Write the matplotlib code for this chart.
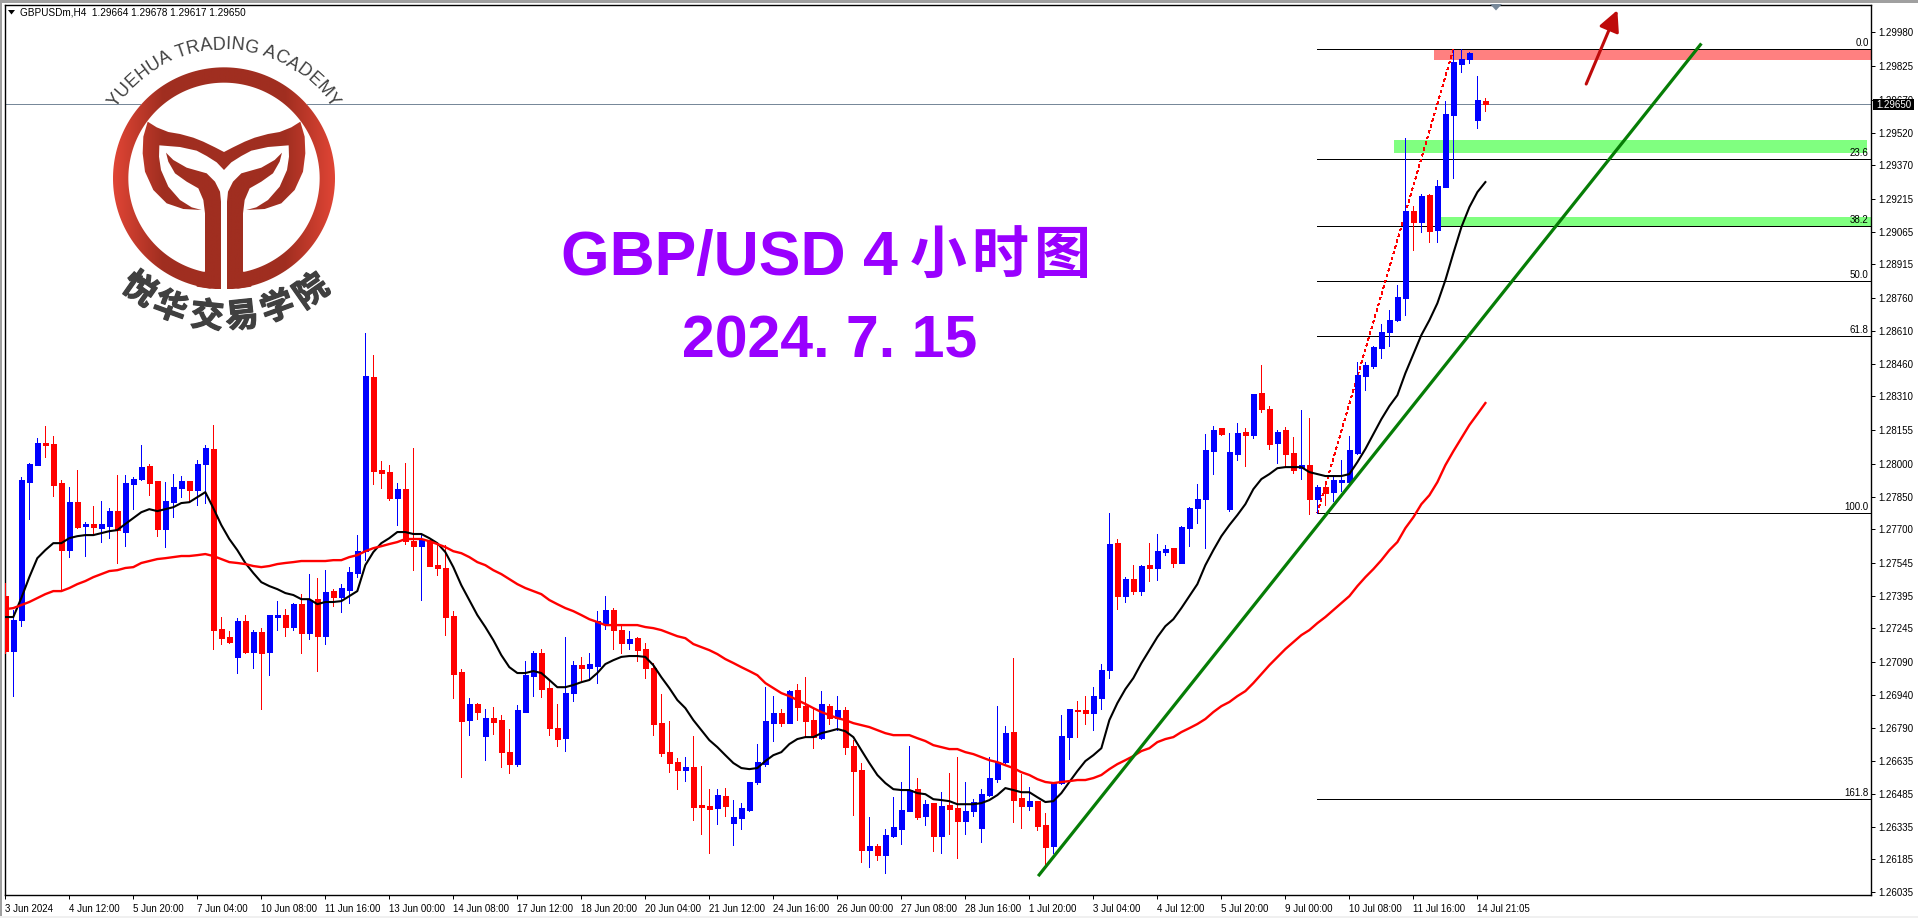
import numpy as np
import matplotlib
matplotlib.use("Agg")
import matplotlib.pyplot as plt
import matplotlib.patheffects as pe
from matplotlib.path import Path
from matplotlib.patches import PathPatch, Rectangle, Circle, Polygon
from matplotlib.font_manager import FontProperties
from matplotlib.textpath import text_to_path

plt.rcParams['font.family'] = ['Liberation Sans', 'Noto Sans CJK SC', 'DejaVu Sans']

W, H = 1918, 918

# prices in points (1e-5)
high_pts = [
    127453,127329,127939,128003,128118,128173,128127,127925,127893,127971,
    127733,127806,127829,127797,127948,127948,127939,128086,127999,127921,
    127916,127953,127944,127921,128017,128086,128178,127297,127233,127293,
    127306,127237,127247,127306,127370,127333,127361,127402,127494,127476,
    127512,127425,127448,127526,127673,128600,128499,128012,127994,127911,
    128003,128072,127673,127650,127632,127627,127324,127058,126925,126902,
    126875,126884,126847,126783,126893,127095,127141,127150,127008,126898,
    127205,127095,127114,127132,127324,127393,127338,127255,127233,127205,
    127178,127086,126943,126819,126650,126654,126751,126613,126507,126507,
    126512,126457,126443,126540,126714,126975,126934,126875,126961,126989,
    127021,126879,126957,126898,126934,126884,126732,126627,126379,126255,
    126324,126471,126540,126705,126558,126457,126443,126494,126581,126654,
    126540,126462,126507,126654,126888,126796,127109,126576,126517,126452,
    126397,126535,126847,126875,126911,126934,126975,127081,127774,127655,
    127480,127535,127535,127636,127677,127627,127613,127714,127801,127907,
    128136,128173,128164,128141,128187,128164,128320,128453,128265,128155,
    128168,128122,128246,128210,127902,127902,127944,128017,128127,128467,
    128467,128540,128641,128705,128820,129495,129183,129238,129238,129302,
    129665,129899,129903,129889,129779,129678]
low_pts = [
    127132,126934,127255,127746,127994,128031,127852,127420,127572,127705,
    127577,127682,127641,127659,127545,127622,127792,127925,127856,127668,
    127618,127755,127847,127829,127811,127820,127150,127173,127178,127040,
    127132,127063,126875,127030,127237,127210,127237,127132,127196,127049,
    127173,127347,127320,127361,127480,127558,127907,127889,127834,127719,
    127632,127512,127375,127531,127489,127214,126925,126562,126755,126829,
    126641,126760,126608,126581,126613,126861,126934,126930,126755,126705,
    126682,126911,127008,127017,126994,127242,127150,127132,127150,127095,
    127017,126755,126659,126585,126507,126544,126365,126301,126214,126347,
    126384,126250,126324,126406,126530,126613,126728,126796,126810,126824,
    126751,126695,126737,126806,126778,126668,126388,126172,126150,126182,
    126122,126287,126255,126406,126370,126342,126223,126214,126301,126191,
    126301,126384,126264,126475,126540,126627,126356,126328,126411,126319,
    126150,126214,126530,126645,126746,126806,126778,126875,127017,127333,
    127366,127402,127398,127462,127466,127581,127526,127545,127622,127728,
    127613,127953,128132,127783,128017,127990,128118,128237,128068,128003,
    127985,127957,127930,127769,127774,127811,127829,127875,127902,128045,
    128338,128439,128485,128540,128655,128682,128981,129063,129017,129017,
    129270,129311,129798,129839,129541,129617]
open_pts = [
    127393,127141,127283,127916,127994,128095,128090,127911,127604,127824,
    127714,127724,127705,127714,127783,127687,127907,127930,127990,127921,
    127700,127824,127889,127921,127879,127999,128068,127242,127205,127114,
    127279,127137,127228,127137,127297,127306,127251,127356,127223,127379,
    127210,127416,127389,127420,127498,127600,128398,127971,127962,127843,
    127884,127645,127622,127650,127535,127522,127301,127044,126824,126898,
    126751,126833,126824,126677,126622,126861,127026,127132,126971,126787,
    126741,126948,127076,127063,127072,127269,127329,127237,127178,127201,
    127150,127063,126810,126677,126631,126595,126608,126434,126430,126420,
    126475,126352,126374,126411,126540,126622,126810,126856,126810,126961,
    126888,126824,126741,126888,126833,126870,126705,126595,126228,126246,
    126205,126292,126324,126406,126507,126384,126443,126292,126434,126420,
    126360,126406,126328,126480,126553,126631,126769,126466,126430,126452,
    126342,126246,126535,126746,126870,126870,126856,126925,127053,127636,
    127393,127471,127416,127535,127522,127595,127613,127545,127705,127797,
    127838,128058,128164,127792,128045,128146,128132,128325,128251,128095,
    128155,128049,127980,127994,127838,127893,127870,127916,127916,128049,
    128402,128448,128531,128604,128659,128760,129160,129109,129233,129072,
    129270,129600,129834,129857,129577,129664]
close_pts = [
    127141,127283,127925,127999,128095,128086,127902,127604,127824,127710,
    127724,127710,127724,127783,127696,127911,127930,127985,127911,127700,
    127829,127893,127921,127879,127999,128072,127237,127201,127182,127279,
    127137,127228,127132,127306,127306,127251,127356,127223,127375,127210,
    127411,127389,127430,127503,127600,128402,127967,127957,127843,127884,
    127645,127622,127650,127531,127522,127297,127035,126819,126898,126861,
    126833,126815,126677,126622,126870,127030,127132,126966,126787,126737,
    126948,127076,127063,127081,127279,127329,127237,127178,127196,127146,
    127063,126806,126672,126627,126595,126608,126425,126425,126416,126480,
    126430,126379,126420,126540,126631,126819,126856,126810,126957,126884,
    126819,126746,126898,126833,126870,126700,126590,126228,126246,126205,
    126296,126333,126411,126503,126379,126438,126292,126430,126416,126360,
    126406,126448,126484,126558,126631,126764,126457,126430,126452,126338,
    126241,126535,126751,126875,126865,126856,126934,127053,127632,127393,
    127471,127416,127531,127522,127600,127609,127545,127710,127797,127838,
    128063,128155,128136,128054,128141,128132,128320,128251,128090,128146,
    128045,127971,127994,127838,127893,127866,127925,127925,128063,128407,
    128453,128536,128604,128659,128765,129160,129109,129229,129068,129274,
    129605,129843,129857,129885,129669,129650]

ma_fast_pts = [
    127297,127297,127384,127480,127567,127604,127636,127636,127659,127668,
    127673,127673,127682,127691,127696,127724,127751,127778,127792,127783,
    127792,127801,127820,127824,127847,127870,127797,127719,127655,127604,
    127545,127499,127457,127439,127425,127407,127398,127379,127379,127356,
    127366,127366,127370,127393,127416,127535,127595,127636,127659,127687,
    127687,127678,127678,127659,127636,127595,127526,127443,127375,127306,
    127251,127191,127122,127067,127040,127040,127049,127040,127008,126975,
    126975,126985,126998,127008,127040,127081,127099,127114,127118,127118,
    127114,127076,127021,126971,126916,126879,126824,126778,126732,126700,
    126663,126627,126604,126599,126604,126636,126663,126677,126714,126737,
    126746,126746,126764,126773,126783,126773,126746,126686,126627,126572,
    126535,126507,126503,126503,126489,126484,126461,126457,126452,126438,
    126438,126438,126443,126457,126480,126512,126503,126493,126493,126470,
    126448,126452,126489,126540,126590,126636,126663,126695,126824,126902,
    126966,127017,127085,127145,127205,127255,127287,127338,127393,127448,
    127535,127604,127668,127719,127765,127815,127884,127930,127953,127980,
    127985,127985,127985,127962,127953,127944,127944,127944,127953,128008,
    128068,128136,128205,128265,128315,128416,128504,128591,128659,128737,
    128843,128967,129086,129178,129247,129293]
ma_slow_pts = [
    127333,127338,127352,127366,127384,127402,127416,127416,127430,127448,
    127462,127480,127494,127508,127512,127522,127526,127545,127554,127563,
    127567,127572,127577,127577,127581,127586,127577,127563,127549,127545,
    127540,127531,127526,127531,127540,127545,127549,127554,127554,127554,
    127554,127558,127558,127572,127581,127599,127613,127622,127632,127641,
    127655,127655,127655,127645,127632,127618,127599,127590,127572,127549,
    127535,127512,127494,127471,127448,127430,127416,127402,127375,127356,
    127338,127324,127306,127287,127274,127260,127260,127260,127260,127260,
    127251,127246,127237,127223,127209,127200,127173,127159,127145,127127,
    127104,127086,127067,127049,127030,126994,126971,126948,126934,126916,
    126898,126879,126861,126847,126833,126824,126810,126801,126792,126778,
    126764,126755,126755,126755,126741,126728,126709,126700,126691,126691,
    126677,126668,126654,126640,126631,126617,126604,126585,126572,126553,
    126540,126535,126540,126544,126549,126549,126558,126572,126599,126622,
    126640,126659,126682,126695,126723,126737,126746,126769,126787,126806,
    126829,126861,126888,126907,126934,126957,126994,127035,127076,127113,
    127150,127182,127214,127237,127269,127297,127329,127361,127393,127439,
    127480,127517,127558,127604,127641,127705,127755,127815,127856,127916,
    127994,128058,128118,128178,128228,128279]

y_tick_labels = ["1.29980","1.29825","1.29670","1.29520","1.29370","1.29215","1.29065",
                 "1.28915","1.28760","1.28610","1.28460","1.28310","1.28155","1.28000",
                 "1.27850","1.27700","1.27545","1.27395","1.27245","1.27090","1.26940",
                 "1.26790","1.26635","1.26485","1.26335","1.26185","1.26035"]
x_tick_labels = ["3 Jun 2024","4 Jun 12:00","5 Jun 20:00","7 Jun 04:00","10 Jun 08:00",
                 "11 Jun 16:00","13 Jun 00:00","14 Jun 08:00","17 Jun 12:00","18 Jun 20:00",
                 "20 Jun 04:00","21 Jun 12:00","24 Jun 16:00","26 Jun 00:00","27 Jun 08:00",
                 "28 Jun 16:00","1 Jul 20:00","3 Jul 04:00","4 Jul 12:00","5 Jul 20:00",
                 "9 Jul 00:00","10 Jul 08:00","11 Jul 16:00","14 Jul 21:05"]

fib_levels = [0.0, 23.6, 38.2, 50.0, 61.8, 100.0, 161.8]
fib_high = 1.29902
fib_low = 1.27775
fib_start_bar = 164
fib_end_bar = 181
last_price = 1.29650

trend_bars = [129.1, 212.0]
trend_prices = [1.26108, 1.29929]
arrow_bars = [197.6, 201.5]
arrow_prices = [1.29743, 1.30082]

# zones: bar from, bar to, price low, price high, colour
zone_pink = (178.6, 233.3, 1.29853, 1.29902, "#FF8080")
zone_green1 = (173.6, 232.7, 1.29426, 1.29486, "#80FF80")
zone_green2 = (179.3, 233.3, 1.29091, 1.29132, "#80FF80")

highs = np.array(high_pts) / 1e5
lows = np.array(low_pts) / 1e5
opens = np.array(open_pts) / 1e5
closes = np.array(close_pts) / 1e5
bars = np.arange(len(highs))
up = closes >= opens

fig = plt.figure(figsize=(W / 100, H / 100), dpi=100, facecolor="white")

# window frame
fig.add_artist(Rectangle((0, 1 - 3 / H), 1, 3 / H, transform=fig.transFigure, color="#A0A0A0", lw=0))
fig.add_artist(Rectangle((0, 0), 2 / W, 1, transform=fig.transFigure, color="#A0A0A0", lw=0))
fig.add_artist(Rectangle((0, 0), 1, 2 / H, transform=fig.transFigure, color="#F0F0F0", lw=0))

left, right, top, bottom = 4.5, 1871, 4.7, 895.3
ax = fig.add_axes([left / W, 1 - bottom / H, (right - left) / W, (bottom - top) / H])
ax.set_xlim(-0.1, 233.2)
ax.set_ylim(1.26020, 1.30107)
for s in ax.spines.values():
    s.set_color("black")
    s.set_linewidth(1.0)

ax.yaxis.tick_right()
ax.set_yticks([float(t) for t in y_tick_labels])
ax.set_yticklabels(y_tick_labels)
ax.set_xticks(np.arange(len(x_tick_labels)) * 8)
ax.set_xticklabels(x_tick_labels, ha="left")
ax.tick_params(axis="both", length=3, width=0.72, color="black", labelsize=7.0, pad=2.5)
ax.tick_params(axis="x", pad=3)

# zones
for z in (zone_pink, zone_green1, zone_green2):
    ax.add_patch(Rectangle((z[0], z[2]), z[1] - z[0], z[3] - z[2], color=z[4], lw=0, zorder=1))

# bid line
ax.axhline(last_price, color="#778899", lw=0.72, zorder=2)

# fibo
span = fib_high - fib_low
for lev in fib_levels:
    p = fib_high - span * lev / 100
    ax.plot([fib_start_bar, 233.2], [p, p], color="black", lw=0.6, zorder=2, antialiased=False)
    ax.text(232.9, p + 0.00005, f"{lev:.1f}", ha="right", va="bottom", fontsize=7.0, color="black", zorder=6)
ax.plot([fib_start_bar, fib_end_bar], [fib_low, fib_high], color="red", lw=0.6,
        ls=(0, (3, 4)), zorder=3, antialiased=False)

# candles
colors = np.where(up, "#0000FF", "#FF0000")
ax.vlines(bars, lows, highs, colors=colors, lw=0.6, zorder=3, antialiased=False)
ax.bar(bars, np.abs(closes - opens), bottom=np.minimum(opens, closes), width=0.56,
       color=colors, edgecolor=colors, linewidth=0.6, zorder=3, antialiased=False)

# moving averages
ax.plot(bars, np.array(ma_fast_pts) / 1e5, color="black", lw=1.5, zorder=4)
ax.plot(bars, np.array(ma_slow_pts) / 1e5, color="#FF0000", lw=1.7, zorder=4)

# drawn objects
ax.plot(trend_bars, trend_prices, color="#067D06", lw=2.3, zorder=5, solid_capstyle="butt")
ax.annotate("", xy=(arrow_bars[1], arrow_prices[1]), xytext=(arrow_bars[0], arrow_prices[0]),
            arrowprops=dict(arrowstyle="-|>,head_length=0.9,head_width=0.45", color="#BE0A0A", lw=2.2,
                            mutation_scale=14, shrinkA=0, shrinkB=0), zorder=5, annotation_clip=False)

# overlay in screen pixels for logo, captions and chart furniture
ov = fig.add_axes([0, 0, 1, 1], facecolor="none")
ov.set_xlim(0, W)
ov.set_ylim(H, 0)
ov.axis("off")

# price box and shift marker
ov.add_patch(Rectangle((1873, 99), 41, 11, color="black", lw=0, zorder=8))
ov.text(1893.5, 104.6, "1.29650", color="white", ha="center", va="center", fontsize=7.0, zorder=9)
ov.add_patch(Polygon([(1490, 4), (1502, 4), (1496, 10.5)], color="#778899", lw=0, zorder=8))

# header
ov.add_patch(Polygon([(8, 10), (15, 10), (11.5, 14.5)], color="black", lw=0))
ov.text(20, 12.7, "GBPUSDm,H4  1.29664 1.29678 1.29617 1.29650", fontsize=7.2, va="center", ha="left", color="black")

# captions
purple = "#9900FF"
ov.text(561, 258, "GBP/USD 4", color=purple, fontsize=45, fontweight="bold", ha="left", va="center")
for ch, cx in zip("小时图", (938, 1000, 1062)):
    ov.text(cx, 256, ch, color=purple, fontsize=41, fontweight="bold", ha="center", va="center",
            family=["Noto Sans CJK SC"])
ov.text(830, 342, "2024. 7. 15", color=purple, fontsize=42.5, fontweight="bold", ha="center", va="center")

# logo, drawn in the 3x crop coordinates
def lx(v):
    return np.asarray(v, float) / 3

def mirror(pts):
    return [(2 * 672 - x, y) for x, y in pts]

cx, cy, R_out, R_in = 672, 535, 333, 287

ov.add_patch(Circle((lx(cx), lx(cy)), lx(R_out), color="white", lw=0, zorder=3))

t = np.linspace(0, 2 * np.pi, 200)
ring_v = np.vstack([np.c_[cx + R_out * np.cos(t), cy + R_out * np.sin(t)],
                    np.c_[cx + R_in * np.cos(t[::-1]), cy + R_in * np.sin(t[::-1])]]) / 3
ring_c = [Path.MOVETO] + [Path.LINETO] * 199 + [Path.MOVETO] + [Path.LINETO] * 199

top_leaf = [(443, 365), (470, 382), (505, 396), (540, 402), (580, 413), (610, 425), (645, 442), (672, 456),
            (672, 510), (650, 487), (620, 468), (590, 452), (540, 441), (478, 436), (477, 470), (483, 510),
            (505, 560), (540, 600), (575, 622), (605, 630), (550, 627), (500, 610), (460, 570), (435, 515),
            (428, 460), (430, 410)]
stem = [(498, 458), (520, 480), (560, 503), (620, 520), (645, 545), (660, 575), (663, 605), (663, 845),
        (650, 860), (630, 866), (590, 860), (590, 820), (615, 815), (615, 640), (610, 600), (595, 565),
        (560, 545), (525, 520), (505, 485)]
shapes = [top_leaf, mirror(top_leaf), stem, mirror(stem)]
leaf_v, leaf_c = [], []
for s in shapes:
    leaf_v += [(x / 3, y / 3) for x, y in s] + [(s[0][0] / 3, s[0][1] / 3)]
    leaf_c += [Path.MOVETO] + [Path.LINETO] * (len(s) - 1) + [Path.CLOSEPOLY]
leaf_path = Path(leaf_v, leaf_c)
ring_path = Path(ring_v, ring_c)

edge = np.array([224, 69, 53]) / 255
mid = np.array([160, 46, 32]) / 255
grad_x = np.linspace(-1, 1, 256)
w = np.clip((np.abs(grad_x) - 0.55) / 0.45, 0, 1)[None, :, None]
grad = mid[None, None, :] * (1 - w) + edge[None, None, :] * w
extent = (lx(cx - R_out), lx(cx + R_out), lx(cy + R_out), lx(cy - R_out))

im = ov.imshow(grad, extent=extent, aspect="auto", zorder=4)
im.set_clip_path(PathPatch(ring_path, transform=ov.transData))
ov.add_patch(Rectangle((663 / 3, 510 / 3), 19 / 3, 370 / 3, color="white", lw=0, zorder=5))
im2 = ov.imshow(grad, extent=extent, aspect="auto", zorder=6)
im2.set_clip_path(PathPatch(leaf_path, transform=ov.transData))
ov.set_xlim(0, W)
ov.set_ylim(H, 0)

# arc text over the ring
logo_fp = FontProperties(family="Liberation Sans", size=13)
logo_text = "YUEHUA TRADING ACADEMY"
adv = [text_to_path.get_text_width_height_descent(c, logo_fp, False)[0] * 100 / 72 for c in logo_text]
tot = sum(adv)
arc_r = 129.0
pos = -tot / 2
for c, a in zip(logo_text, adv):
    ang = (pos + a / 2) / arc_r
    ov.text(lx(cx) + arc_r * np.sin(ang), lx(cy) - arc_r * np.cos(ang), c, fontproperties=logo_fp,
            color="#404040", rotation=-np.degrees(ang), rotation_mode="anchor", ha="center", va="baseline", zorder=7)
    pos += a

logo_cn = "悦华交易学院"
cn_xy = [(139, 290), (170, 308), (207, 317), (242, 317), (278, 308), (312, 292)]
cn_rot = [-35, -20, -6, 6, 20, 35]
for c, (x, y), r in zip(logo_cn, cn_xy, cn_rot):
    ov.text(x, y, c, fontsize=24, fontweight="bold", color="#404040", ha="center", va="center",
            rotation=r, rotation_mode="anchor", family=["Noto Sans CJK SC"], zorder=7,
            path_effects=[pe.withStroke(linewidth=0.9, foreground="#404040")])

fig.savefig("out.png", dpi=100)
